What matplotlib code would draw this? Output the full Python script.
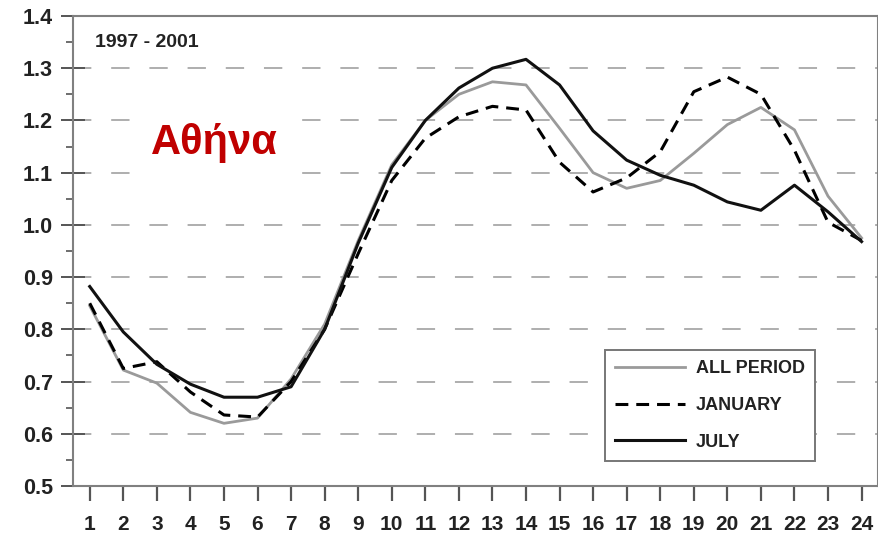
import matplotlib
matplotlib.use("Agg")
import matplotlib.pyplot as plt
import numpy as np

hours = list(range(1, 25))
all_period = [0.845, 0.722, 0.697, 0.641, 0.620, 0.630, 0.705, 0.810, 0.970, 1.115,
              1.200, 1.250, 1.274, 1.268, 1.185, 1.100, 1.070, 1.085, 1.137, 1.192,
              1.225, 1.182, 1.055, 0.975]
january = [0.850, 0.725, 0.738, 0.680, 0.636, 0.632, 0.700, 0.800, 0.945, 1.085,
           1.166, 1.207, 1.227, 1.220, 1.120, 1.063, 1.090, 1.140, 1.255, 1.283,
           1.250, 1.143, 1.005, 0.970]
july = [0.882, 0.795, 0.733, 0.695, 0.670, 0.670, 0.690, 0.800, 0.965, 1.110,
        1.200, 1.262, 1.300, 1.317, 1.268, 1.180, 1.124, 1.095, 1.076, 1.044,
        1.028, 1.076, 1.025, 0.968]
grid_levels = [0.6, 0.7, 0.8, 0.9, 1.0, 1.1, 1.2, 1.3]
period_text = "1997 - 2001"
city = "Αθήνα"

plt.rcParams['font.family'] = ['Liberation Sans', 'DejaVu Sans']
plt.rcParams['font.weight'] = 'bold'

fig = plt.figure(figsize=(8.79, 5.35), dpi=100)
ax = fig.add_axes([0.083, 0.0916, 0.9155, 0.8785])

for g in grid_levels:
    ax.axhline(g, color='#999999', lw=1.1, linestyle=(0, (12, 13)), zorder=1)

ax.plot(hours, all_period, color='#9a9a9a', lw=2.0, label='ALL PERIOD', zorder=3)
ax.plot(hours, january, color='black', lw=2.2, linestyle=(0, (4.2, 2.6)),
        label='JANUARY', zorder=4)
ax.plot(hours, july, color='#111111', lw=2.2, label='JULY', zorder=5)

ax.set_xlim(0.5, 24.48)
ax.set_ylim(0.5, 1.4)
ax.set_xticks(hours)
ax.set_yticks(np.arange(0.5, 1.41, 0.1))
ax.set_yticks(np.arange(0.55, 1.4, 0.1), minor=True)
ax.yaxis.set_major_formatter(matplotlib.ticker.FormatStrFormatter('%.1f'))

ax.tick_params(axis='x', direction='out', length=11, width=1.6, color='#555555',
               pad=10, labelsize=15)
ax.tick_params(axis='y', which='major', direction='inout', length=17, width=1.4,
               color='#555555', pad=6, labelsize=15.5)
ax.tick_params(axis='y', which='minor', direction='out', length=5, width=1.2,
               color='#555555')
for lab in ax.get_xticklabels() + ax.get_yticklabels():
    lab.set_fontweight('bold')
    lab.set_color('#222222')

for s in ax.spines.values():
    s.set_color('#808080')
    s.set_linewidth(1.5)

ax.text(0.027, 0.943, period_text, transform=ax.transAxes, ha='left', va='center',
        fontsize=14, fontweight='bold', color='#222222')
ax.text(0.176, 0.73, city, transform=ax.transAxes, ha='center', va='center',
        fontsize=30, fontweight='bold', color='#c00000', zorder=6,
        bbox=dict(boxstyle='square,pad=0.45', facecolor='white', edgecolor='none'))

leg = ax.legend(loc='upper left', bbox_to_anchor=(0.661, 0.289), borderaxespad=0,
                handlelength=3.9, handletextpad=0.6, labelspacing=1.1,
                borderpad=0.55, fancybox=False, framealpha=1, edgecolor='#777777',
                prop={'weight': 'bold', 'size': 13})
leg.get_frame().set_linewidth(1.4)
for t in leg.get_texts():
    t.set_color('#222222')

fig.savefig("out.png", dpi=100)
